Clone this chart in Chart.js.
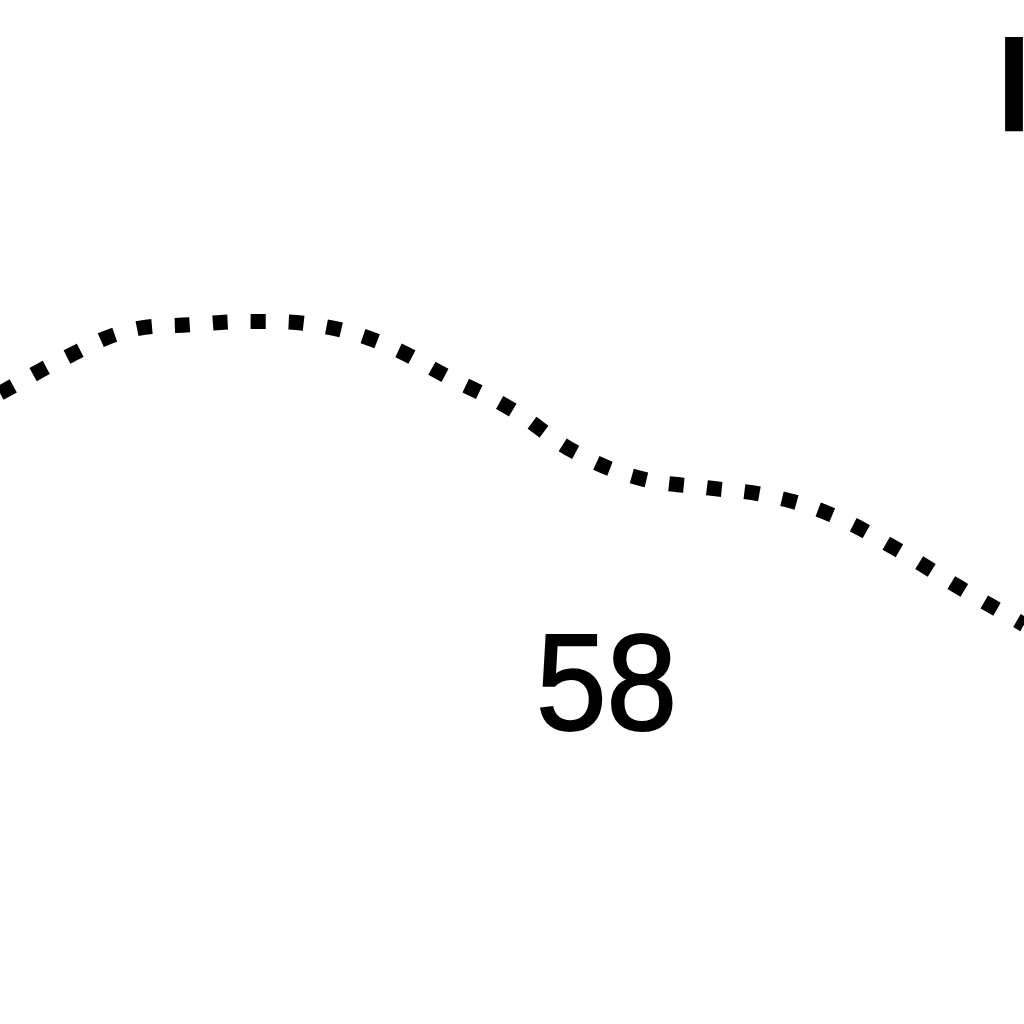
<!DOCTYPE html>
<html><head><meta charset="utf-8">
<script src="https://cdn.jsdelivr.net/npm/chart.js@4/dist/chart.umd.min.js"></script>
<style>html,body{margin:0;padding:0;background:#fff;overflow:hidden;} #wrap{width:1024px;height:1024px;position:relative;}</style>
</head><body><div id="wrap"><canvas id="c"></canvas></div>
<script>
const positions = [0, 1, 2, 3, 4, 5, 6, 7, 8, 9, 10, 11, 12, 13, 14, 15, 16];
const values = [61.6, 65.0, 67.7, 68.3, 68.6, 68.2, 66.4, 63.2, 60.0, 55.8, 53.3, 52.4, 51.6, 49.7, 46.4, 42.6, 39.0];
const valueLabel = "58";
const cornerLabel = "l";

const textPlugin = {
  id: 'texts',
  afterDraw(chart) {
    const ctx = chart.ctx;
    ctx.save();
    ctx.fillStyle = '#000';
    ctx.strokeStyle = '#000';
    ctx.lineWidth = 2;
    ctx.textAlign = 'left';
    ctx.textBaseline = 'alphabetic';
    ctx.font = '138px "Liberation Sans", Arial, sans-serif';
    ctx.translate(536, 730);
    ctx.scale(0.92, 1);
    ctx.fillText(valueLabel, 0, 0);
    ctx.strokeText(valueLabel, 0, 0);
    ctx.restore();
    ctx.save();
    ctx.fillStyle = '#000';
    ctx.font = 'bold 130px "Liberation Sans", Arial, sans-serif';
    ctx.fillText(cornerLabel, 996, 131);
    ctx.restore();
  }
};

new Chart(document.getElementById('c'), {
  type: 'line',
  data: {
    datasets: [{
      data: positions.map((p, i) => ({x: p, y: values[i]})),
      borderColor: '#000',
      borderWidth: 15,
      borderDash: [15, 23],
      borderCapStyle: 'butt',
      pointRadius: 0,
      tension: 0.4,
      fill: false
    }]
  },
  options: {
    responsive: true,
    maintainAspectRatio: false,
    animation: false,
    layout: {padding: 0},
    plugins: {legend: {display: false}, tooltip: {enabled: false}},
    scales: {
      x: {type: 'linear', min: 0, max: 16, display: false},
      y: {min: 0, max: 100, display: false}
    }
  },
  plugins: [textPlugin]
});
</script></body></html>
